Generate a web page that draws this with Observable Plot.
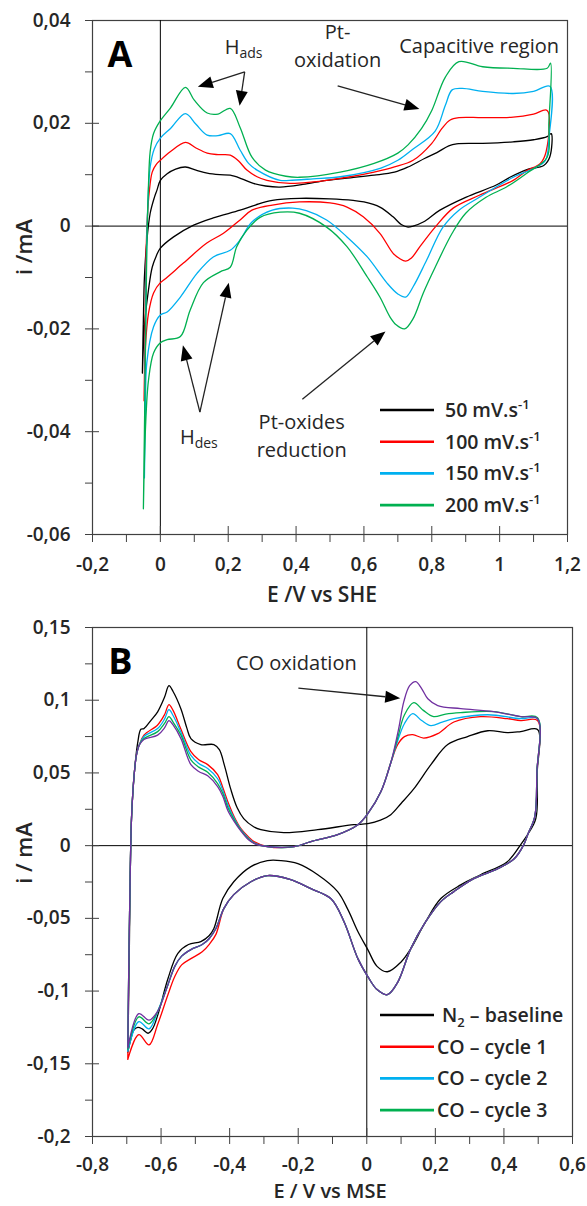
<!DOCTYPE html>
<html><head><meta charset="utf-8">
<script src="https://cdn.jsdelivr.net/npm/d3@7"></script>
<script src="https://cdn.jsdelivr.net/npm/@observablehq/plot@0.6"></script>
<style>
html,body{margin:0;padding:0;background:#fff;}
#chart{width:587px;height:1206px;position:relative;}
#chart svg{display:block;}
</style></head><body><div id="chart"></div><script>
// ---------------- Panel A data (E / V vs SHE, i / mA) ----------------
const aXMajor = [-0.2, 0, 0.2, 0.4, 0.6, 0.8, 1, 1.2];
const aXMinor = [-0.1, 0.1, 0.3, 0.5, 0.7, 0.9, 1.1];
const aYMajor = [-0.06, -0.04, -0.02, 0, 0.02, 0.04];
const aYMinor = [-0.05, -0.03, -0.01, 0.01, 0.03];
const aLabels = ["50", "100", "150", "200"];
const aColors = ["#000000", "#ff0000", "#00b0f0", "#00b050"];

const a50 = [[-0.053,-0.0286],[-0.05,-0.018],[-0.047,-0.01],[-0.04,-0.003],[-0.03,0.0025],[-0.018,0.0055],[-0.01,0.007],[0,0.0089],[0.02,0.0102],[0.045,0.0111],[0.074,0.0115],[0.105,0.0109],[0.138,0.0103],[0.175,0.0100],[0.206,0.0099],[0.24,0.0092],[0.274,0.0083],[0.31,0.0078],[0.353,0.0076],[0.42,0.0081],[0.49,0.0089],[0.56,0.0094],[0.63,0.0099],[0.69,0.0105],[0.73,0.0115],[0.78,0.0132],[0.815,0.0143],[0.85,0.0156],[0.873,0.016],[0.95,0.0161],[1.04,0.0164],[1.1,0.0168],[1.14,0.0174],[1.152,0.018],
  [1.148,0.0135],[1.13,0.0118],[1.08,0.011],[1.03,0.0095],[0.99,0.008],[0.9,0.0056],[0.824,0.0031],[0.775,0.0008],[0.745,0.0],[0.73,-0.0002],[0.71,0.0003],[0.686,0.0018],[0.647,0.0037],[0.6,0.0047],[0.568,0.005],[0.5,0.0053],[0.41,0.0054],[0.33,0.005],[0.28,0.0041],[0.235,0.0031],[0.156,0.0016],[0.098,0.0002],[0.039,-0.0021],[0,-0.0043],[-0.012,-0.0058],[-0.024,-0.008],[-0.035,-0.0124],[-0.045,-0.018],[-0.05,-0.0235],[-0.053,-0.0286]];
const a100 = [[-0.048,-0.034],[-0.045,-0.02],[-0.042,-0.005],[-0.038,0.002],[-0.033,0.0065],[-0.024,0.0105],[-0.012,0.012],[0,0.0128],[0.03,0.0145],[0.074,0.0163],[0.105,0.0152],[0.138,0.0142],[0.17,0.0139],[0.206,0.0138],[0.23,0.0127],[0.255,0.0109],[0.285,0.0096],[0.314,0.0089],[0.382,0.0083],[0.45,0.0086],[0.49,0.0089],[0.56,0.0096],[0.63,0.0105],[0.69,0.0115],[0.745,0.0128],[0.8,0.0161],[0.83,0.019],[0.853,0.0206],[0.88,0.0211],[0.95,0.0211],[1.04,0.0212],[1.1,0.0218],[1.14,0.0225],
  [1.137,0.0145],[1.12,0.0122],[1.08,0.0108],[1.04,0.0089],[0.94,0.006],[0.863,0.0035],[0.81,-0.0002],[0.765,-0.004],[0.74,-0.0062],[0.723,-0.0068],[0.705,-0.0063],[0.686,-0.0053],[0.647,-0.0014],[0.598,0.0018],[0.55,0.0037],[0.5,0.0045],[0.41,0.0047],[0.33,0.0041],[0.27,0.0031],[0.235,0.0012],[0.186,-0.0014],[0.137,-0.0033],[0.068,-0.0072],[0.01,-0.0105],[0,-0.011],[-0.02,-0.013],[-0.035,-0.017],[-0.044,-0.0235],[-0.048,-0.034]];
const a150 = [[-0.047,-0.049],[-0.045,-0.03],[-0.042,-0.01],[-0.037,0.004],[-0.03,0.0115],[-0.018,0.015],[0,0.0171],[0.03,0.019],[0.074,0.0219],[0.105,0.0198],[0.138,0.0177],[0.17,0.0176],[0.206,0.018],[0.235,0.0148],[0.26,0.0122],[0.285,0.0109],[0.353,0.0089],[0.38,0.0089],[0.45,0.0092],[0.53,0.0096],[0.65,0.0113],[0.7,0.0128],[0.745,0.015],[0.81,0.0185],[0.84,0.0235],[0.86,0.0265],[0.89,0.0268],[0.95,0.0262],[1.04,0.0258],[1.1,0.0262],[1.148,0.0272],
  [1.145,0.017],[1.135,0.0128],[1.1,0.0112],[1.04,0.0095],[0.94,0.0056],[0.88,0.0031],[0.833,-0.0002],[0.785,-0.0066],[0.745,-0.0118],[0.723,-0.0138],[0.7,-0.0132],[0.667,-0.011],[0.61,-0.006],[0.55,-0.0021],[0.49,0.0012],[0.43,0.003],[0.39,0.0035],[0.33,0.0031],[0.27,0.0008],[0.235,-0.0027],[0.206,-0.0047],[0.156,-0.006],[0.108,-0.0092],[0.059,-0.0138],[0.02,-0.0167],[0,-0.0173],[-0.02,-0.0196],[-0.04,-0.0266],[-0.044,-0.0363],[-0.047,-0.049]];
const a200 = [[-0.05,-0.055],[-0.045,-0.03],[-0.04,-0.005],[-0.035,0.008],[-0.03,0.0145],[-0.02,0.018],[0,0.0205],[0.03,0.023],[0.074,0.027],[0.1,0.0245],[0.138,0.022],[0.17,0.0218],[0.206,0.0229],[0.235,0.0192],[0.27,0.0134],[0.31,0.0109],[0.37,0.0097],[0.41,0.0095],[0.53,0.0105],[0.63,0.0122],[0.70,0.0142],[0.73,0.0158],[0.77,0.019],[0.80,0.0225],[0.84,0.029],[0.88,0.032],[0.95,0.031],[1.04,0.0307],[1.14,0.0307],[1.15,0.0317],
  [1.145,0.02],[1.14,0.0134],[1.08,0.0103],[1.02,0.0076],[0.96,0.0056],[0.90,0.0025],[0.86,-0.0014],[0.81,-0.008],[0.775,-0.013],[0.745,-0.018],[0.72,-0.020],[0.695,-0.0192],[0.677,-0.0177],[0.647,-0.0138],[0.61,-0.0099],[0.55,-0.004],[0.49,-0.0002],[0.41,0.0025],[0.353,0.0027],[0.294,0.0017],[0.255,-0.0008],[0.225,-0.004],[0.206,-0.008],[0.176,-0.0089],[0.127,-0.011],[0.088,-0.0163],[0.059,-0.0215],[0.02,-0.0221],[0,-0.0227],[-0.02,-0.0247],[-0.035,-0.030],[-0.044,-0.0396],[-0.05,-0.055]];

// Panel A annotations (data coordinates)
const aTexts = [
  {t: "Pt-", E: 0.524, i: 0.0363, anchor: "middle"},
  {t: "oxidation", E: 0.524, i: 0.0309, anchor: "middle"},
  {t: "Capacitive region", E: 0.941, i: 0.0336, anchor: "middle"},
  {t: "Pt-oxides", E: 0.418, i: -0.0396, anchor: "middle"},
  {t: "reduction", E: 0.418, i: -0.045, anchor: "middle"}
];
const aArrows = [
  [0.25, 0.0299, 0.112, 0.027], [0.25, 0.0299, 0.235, 0.0233],
  [0.524, 0.0272, 0.765, 0.0227],
  [0.118, -0.0363, 0.068, -0.0233], [0.118, -0.0363, 0.203, -0.0111],
  [0.42, -0.0338, 0.665, -0.0206]
];

// ---------------- Panel B data (E / V vs MSE, i / mA) ----------------
const bXMajor = [-0.8, -0.6, -0.4, -0.2, 0, 0.2, 0.4, 0.6];
const bXMinor = [-0.7, -0.5, -0.3, -0.1, 0.1, 0.3, 0.5];
const bYMajor = [-0.2, -0.15, -0.1, -0.05, 0, 0.05, 0.1, 0.15];
const bYMinor = [-0.175, -0.125, -0.075, -0.025, 0.025, 0.075, 0.125];
const bLabels = ["N2 – baseline", "CO – cycle 1", "CO – cycle 2", "CO – cycle 3"];
const bColors = ["#000000", "#ff0000", "#00b0f0", "#00b050", "#7030a0"];

const bN2 = [[-0.697,-0.142],[-0.693,-0.08],[-0.69,-0.02],[-0.686,0.02],[-0.678,0.05],[-0.668,0.071],[-0.659,0.08],[-0.65,0.0805],[-0.63,0.086],[-0.61,0.092],[-0.59,0.102],[-0.577,0.110],[-0.565,0.106],[-0.542,0.094],[-0.525,0.081],[-0.513,0.0736],[-0.484,0.0695],[-0.446,0.0695],[-0.43,0.066],[-0.415,0.055],[-0.397,0.039],[-0.378,0.026],[-0.359,0.0186],[-0.33,0.013],[-0.309,0.011],[-0.242,0.0089],[-0.143,0.011],[-0.038,0.0144],[0.003,0.0151],[0.04,0.0175],[0.07,0.0213],[0.1,0.029],[0.137,0.039],[0.187,0.0557],[0.236,0.0695],[0.294,0.075],[0.353,0.079],[0.41,0.0777],[0.449,0.0784],[0.498,0.0798],
  [0.497,0.05],[0.493,0.0186],[0.469,0.0076],[0.449,0.0007],[0.41,-0.011],[0.332,-0.020],[0.274,-0.027],[0.216,-0.0364],[0.17,-0.053],[0.128,-0.071],[0.1,-0.08],[0.06,-0.0867],[0.03,-0.083],[0.003,-0.0715],[-0.026,-0.059],[-0.055,-0.044],[-0.085,-0.0316],[-0.143,-0.020],[-0.201,-0.0124],[-0.25,-0.0103],[-0.29,-0.0103],[-0.338,-0.0144],[-0.388,-0.0248],[-0.42,-0.0364],[-0.446,-0.057],[-0.46,-0.062],[-0.484,-0.066],[-0.52,-0.068],[-0.551,-0.074],[-0.58,-0.0915],[-0.609,-0.116],[-0.625,-0.126],[-0.638,-0.129],[-0.655,-0.126],[-0.668,-0.125],[-0.68,-0.127],[-0.688,-0.133],[-0.697,-0.142]];

const coRise = [[-0.694,-0.08],[-0.69,-0.02],[-0.686,0.02],[-0.678,0.05],[-0.672,0.062],[-0.664,0.069]];
const coMid = [[-0.29,-0.0006],[-0.212,-0.0007],[-0.163,0.0028],[-0.085,0.0076],[-0.026,0.0144],[0.003,0.022],[0.041,0.037],[0.07,0.057]];
const coCath = [[0.496,0.05],[0.49,0.02],[0.47,0.008],[0.458,0.0007],[0.43,-0.009],[0.382,-0.0158],[0.312,-0.0227],[0.254,-0.0316],[0.216,-0.0385],[0.17,-0.053],[0.128,-0.071],[0.09,-0.094],[0.06,-0.1025],[0.03,-0.099],[0.003,-0.090],[-0.026,-0.0777],[-0.067,-0.052],[-0.105,-0.0364],[-0.163,-0.0296],[-0.222,-0.0234],[-0.289,-0.0206],[-0.338,-0.0248],[-0.388,-0.0337],[-0.417,-0.0433]];
const coCathLeft = [[-0.44,-0.057],[-0.46,-0.064],[-0.48,-0.068],[-0.513,-0.0715],[-0.54,-0.076],[-0.56,-0.083],[-0.58,-0.0956],[-0.61,-0.114]];
const co1CathLeft = [[-0.44,-0.061],[-0.46,-0.068],[-0.48,-0.073],[-0.513,-0.0777],[-0.54,-0.082],[-0.56,-0.09],[-0.58,-0.1025],[-0.61,-0.123]];

const co1Left = [[-0.65,0.076],[-0.61,0.083],[-0.59,0.09],[-0.577,0.097],[-0.565,0.093],[-0.542,0.080],[-0.513,0.0646],[-0.49,0.059],[-0.464,0.0557],[-0.435,0.0488],[-0.42,0.040],[-0.405,0.030],[-0.385,0.019],[-0.367,0.0117],[-0.345,0.006],[-0.329,0.0028]];
const co1Right = [[0.09,0.0695],[0.11,0.075],[0.134,0.0763],[0.166,0.074],[0.207,0.077],[0.254,0.085],[0.332,0.0887],[0.41,0.0873],[0.449,0.086],[0.498,0.086]];
const co1Tail = [[-0.635,-0.137],[-0.665,-0.13],[-0.697,-0.147]];

const co2Left = [[-0.65,0.075],[-0.61,0.0805],[-0.59,0.087],[-0.577,0.0935],[-0.565,0.0895],[-0.542,0.078],[-0.513,0.062],[-0.49,0.0565],[-0.464,0.053],[-0.435,0.046],[-0.42,0.038],[-0.405,0.028],[-0.385,0.018],[-0.367,0.011],[-0.345,0.005],[-0.329,0.002]];
const co2Right = [[0.09,0.072],[0.11,0.084],[0.134,0.0908],[0.16,0.086],[0.187,0.0825],[0.22,0.085],[0.254,0.0873],[0.353,0.090],[0.449,0.0873],[0.498,0.0873]];
const co2Tail = [[-0.635,-0.126],[-0.665,-0.121],[-0.697,-0.1415]];

const co3Left = [[-0.65,0.0736],[-0.61,0.0784],[-0.59,0.084],[-0.577,0.0887],[-0.565,0.085],[-0.542,0.076],[-0.513,0.059],[-0.49,0.054],[-0.464,0.0505],[-0.435,0.0427],[-0.42,0.036],[-0.405,0.026],[-0.385,0.017],[-0.367,0.0105],[-0.345,0.0045],[-0.329,0.0017]];
const co3Right = [[0.09,0.074],[0.11,0.09],[0.137,0.0983],[0.165,0.093],[0.195,0.0887],[0.23,0.0905],[0.274,0.0915],[0.37,0.0922],[0.449,0.0887],[0.498,0.088]];
const co3Tail = [[-0.635,-0.1225],[-0.665,-0.1177],[-0.697,-0.140]];

const co4Left = [[-0.65,0.073],[-0.61,0.076],[-0.59,0.081],[-0.577,0.086],[-0.565,0.083],[-0.542,0.0736],[-0.513,0.0557],[-0.49,0.051],[-0.464,0.048],[-0.435,0.0406],[-0.42,0.034],[-0.405,0.024],[-0.385,0.016],[-0.367,0.010],[-0.345,0.004],[-0.329,0.0015]];
const co4Right = [[0.093,0.0805],[0.108,0.099],[0.125,0.110],[0.143,0.1128],[0.16,0.108],[0.178,0.101],[0.207,0.0963],[0.274,0.0942],[0.37,0.0922],[0.449,0.0887],[0.498,0.0873]];
const co4Tail = [[-0.635,-0.120],[-0.665,-0.1155],[-0.697,-0.139]];

const bCO1 = [co1Tail[2], ...coRise, ...co1Left, ...coMid, ...co1Right, ...coCath, ...co1CathLeft, ...co1Tail];
const bCO2 = [co2Tail[2], ...coRise, ...co2Left, ...coMid, ...co2Right, ...coCath, ...coCathLeft, ...co2Tail];
const bCO3 = [co3Tail[2], ...coRise, ...co3Left, ...coMid, ...co3Right, ...coCath, ...coCathLeft, ...co3Tail];
const bCO4 = [co4Tail[2], ...coRise, ...co4Left, ...coMid, ...co4Right, ...coCath, ...coCathLeft, ...co4Tail];

const bArrows = [[-0.198, 0.108, 0.099, 0.101]];

// ---------------- helpers ----------------
const FONT = "'Open Sans', 'Noto Sans', sans-serif";
const INK = "#262626";
const fmt = v => String(Math.round(v * 1000) / 1000).replace(".", ",");
const rows = (pts) => pts.map(([E, i]) => ({E, i}));

function axes(xMajor, xMinor, yMajor, yMinor, xPad) {
  return [
    Plot.axisX(xMajor, {tickSize: 16, dy: -8, tickFormat: () => "", label: null, stroke: "#404040"}),
    Plot.axisX(xMinor, {tickSize: 8, tickFormat: () => "", label: null, stroke: "#404040"}),
    Plot.axisX(xMajor, {tickSize: 0, tickPadding: xPad, tickFormat: fmt, label: null, fontSize: 19, fontWeight: 600, fill: INK}),
    Plot.axisY(yMajor, {tickSize: 14, dx: 7, tickFormat: () => "", label: null, stroke: "#404040"}),
    Plot.axisY(yMinor, {tickSize: 7, tickFormat: () => "", label: null, stroke: "#404040"}),
    Plot.axisY(yMajor, {tickSize: 0, tickPadding: 22, tickFormat: fmt, label: null, fontSize: 19, fontWeight: 600, fill: INK})
  ];
}

function arrow(g, x1, y1, x2, y2) {
  const dx = x2 - x1, dy = y2 - y1, L = Math.hypot(dx, dy), ux = dx / L, uy = dy / L;
  const len = 15, w = 12;
  const bx = x2 - ux * len, by = y2 - uy * len;
  g.append("line").attr("x1", x1).attr("y1", y1).attr("x2", bx).attr("y2", by)
    .attr("stroke", "#222").attr("stroke-width", 1.3);
  g.append("polygon").attr("points",
    `${x2},${y2} ${bx - uy * w / 2},${by + ux * w / 2} ${bx + uy * w / 2},${by - ux * w / 2}`)
    .attr("fill", "#000");
}

const style = {fontFamily: FONT, fontSize: "19px", color: INK, background: "#fff", overflow: "visible"};

// ---------------- Panel A ----------------
const aSeries = [a50, a100, a150, a200];
const plotA = Plot.plot({
  width: 587, height: 612,
  marginLeft: 92, marginRight: 20, marginTop: 20, marginBottom: 78,
  x: {domain: [-0.2, 1.2], label: null},
  y: {domain: [-0.06, 0.04], label: null},
  style,
  marks: [
    Plot.frame({stroke: "#404040", strokeWidth: 1.2}),
    Plot.ruleY([0], {stroke: "#000", strokeWidth: 1}),
    Plot.ruleX([0], {stroke: "#000", strokeWidth: 1}),
    ...aSeries.map((s, k) => Plot.line(rows(s), {x: "E", y: "i", stroke: aColors[k], strokeWidth: 1.3, curve: "catmull-rom"})),
    ...axes(aXMajor, aXMinor, aYMajor, aYMinor, 23)
  ]
});

// ---------------- Panel B ----------------
const bSeries = [bN2, bCO1, bCO2, bCO3, bCO4];
const plotB = Plot.plot({
  width: 587, height: 594,
  marginLeft: 92, marginRight: 15, marginTop: 15, marginBottom: 70,
  x: {domain: [-0.8, 0.6], label: null},
  y: {domain: [-0.2, 0.15], label: null},
  style,
  marks: [
    Plot.frame({stroke: "#404040", strokeWidth: 1.2}),
    Plot.ruleY([0], {stroke: "#000", strokeWidth: 1}),
    Plot.ruleX([0], {stroke: "#000", strokeWidth: 1}),
    ...bSeries.map((s, k) => Plot.line(rows(s), {x: "E", y: "i", stroke: bColors[k], strokeWidth: 1.3, curve: "catmull-rom"})),
    ...axes(bXMajor, bXMinor, bYMajor, bYMinor, 21)
  ]
});

const chart = document.getElementById("chart");
chart.append(plotA, plotB);

// ---------------- annotations ----------------
function decorate(svgEl, opts) {
  const sx = svgEl.scale("x"), sy = svgEl.scale("y");
  const X = v => sx.apply(v), Y = v => sy.apply(v);
  const g = d3.select(svgEl).append("g").attr("font-family", FONT).attr("fill", INK).attr("text-anchor", "start");
  // panel letter
  g.append("text").attr("x", X(opts.letter.E)).attr("y", Y(opts.letter.i))
    .attr("text-anchor", "middle").attr("font-size", 36).attr("font-weight", 700).attr("fill", "#000").text(opts.letter.t);
  // plain texts
  for (const d of opts.texts) {
    g.append("text").attr("x", X(d.E)).attr("y", Y(d.i)).attr("text-anchor", d.anchor)
      .attr("font-size", 20).attr("font-weight", 500).text(d.t);
  }
  // subscripted texts
  for (const d of opts.subs || []) {
    const t = g.append("text").attr("x", X(d.E)).attr("y", Y(d.i)).attr("text-anchor", "start")
      .attr("font-size", 20).attr("font-weight", 500);
    t.append("tspan").text(d.main);
    t.append("tspan").attr("font-size", 14).attr("dy", 4).text(d.sub);
  }
  for (const a of opts.arrows) arrow(g, X(a[0]), Y(a[1]), X(a[2]), Y(a[3]));
  // axis titles
  g.append("text").attr("x", opts.xTitle.x).attr("y", opts.xTitle.y).attr("text-anchor", "middle")
    .attr("font-size", opts.xTitle.size).attr("font-weight", 600).text(opts.xTitle.t);
  g.append("text").attr("transform", `translate(${opts.yTitle.x},${opts.yTitle.y}) rotate(-90)`)
    .attr("text-anchor", "middle").attr("dominant-baseline", "middle")
    .attr("font-size", 22).attr("font-weight", 600).text(opts.yTitle.t);
  // legend
  const L = opts.legend;
  L.items.forEach((it, k) => {
    const y = L.y0 + k * L.step;
    g.append("line").attr("x1", L.x1).attr("x2", L.x2).attr("y1", y).attr("y2", y)
      .attr("stroke", it.color).attr("stroke-width", 2.6);
    const t = g.append("text").attr("x", L.tx).attr("y", y + 7).attr("text-anchor", "start")
      .attr("font-size", 19.5).attr("font-weight", 600);
    it.parts.forEach(p => {
      const s = t.append("tspan").text(p.t);
      if (p.sup) s.attr("font-size", 13).attr("dy", -8);
      if (p.sub) s.attr("font-size", 13).attr("dy", 5);
      if (p.reset) s.attr("dy", p.reset);
    });
  });
}

decorate(plotA, {
  letter: {t: "A", E: -0.118, i: 0.0309},
  texts: aTexts,
  subs: [{main: "H", sub: "ads", E: 0.191, i: 0.0334}, {main: "H", sub: "des", E: 0.059, i: -0.0425}],
  arrows: aArrows,
  xTitle: {t: "E /V vs SHE", x: 322, y: 602, size: 21},
  yTitle: {t: "i /mA", x: 26, y: 247},
  legend: {x1: 380, x2: 434, tx: 445, y0: 410, step: 31.7,
    items: aLabels.map((l, k) => ({color: aColors[k], parts: [{t: l + " mV.s"}, {t: "-1", sup: true}]}))}
});

decorate(plotB, {
  letter: {t: "B", E: -0.717, i: 0.1176},
  texts: [{t: "CO oxidation", E: -0.204, i: 0.1204, anchor: "middle"}],
  arrows: bArrows,
  xTitle: {t: "E / V vs MSE", x: 330, y: 586, size: 20},
  yTitle: {t: "i / mA", x: 26, y: 241},
  legend: {x1: 380, x2: 434, tx: 437, y0: 403, step: 31.7,
    items: bLabels.map((l, k) => ({color: bColors[k], parts: k === 0
      ? [{t: " N"}, {t: "2", sub: true}, {t: " – baseline", reset: -5}]
      : [{t: l}]}))}
});
</script></body></html>
